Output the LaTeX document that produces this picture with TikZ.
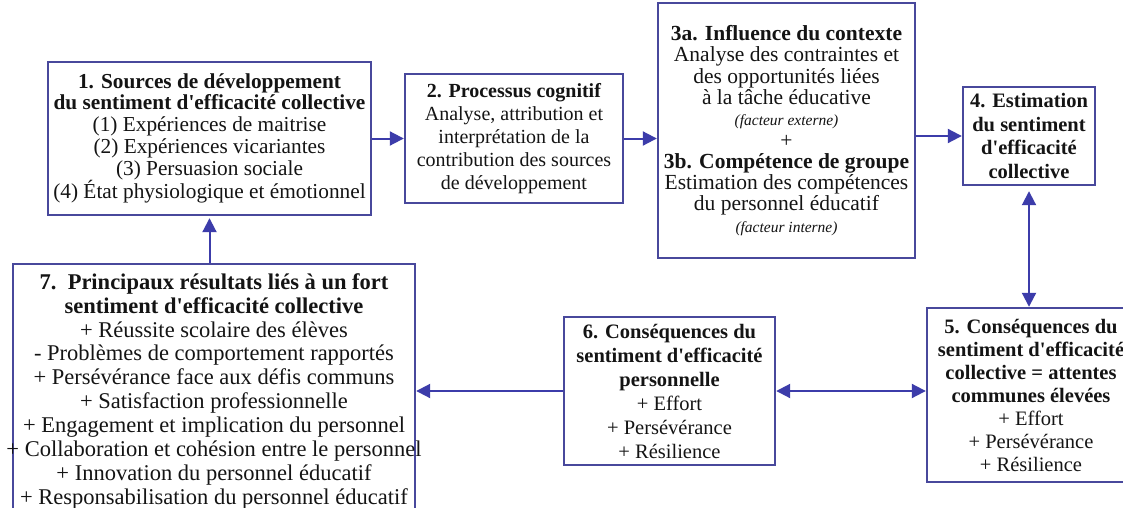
\documentclass[tikz,border=0pt]{standalone}
\usepackage{fontspec}
\setmainfont{Liberation Serif}
\usetikzlibrary{arrows.meta}
\definecolor{boxcol}{RGB}{72,72,156}
\definecolor{arrcol}{RGB}{60,60,170}
\definecolor{txtcol}{RGB}{20,20,20}
\tikzset{
  box/.style={draw=boxcol, line width=2.4pt, fill=white, inner sep=0pt, align=center, text=txtcol},
  arr/.style={draw=arrcol, line width=2pt, -{Triangle[length=14pt,width=14pt]}},
  darr/.style={draw=arrcol, line width=2pt, {Triangle[length=14pt,width=14pt]}-{Triangle[length=14pt,width=14pt]}},
}
\newcommand{\fsz}[2]{\fontsize{#1}{#2}\selectfont}
\newcommand{\ap}{\textquotesingle}
\begin{document}
\begin{tikzpicture}[x=1pt,y=-1pt]
\useasboundingbox (0,0) rectangle (1123,508);
\clip (0,0) rectangle (1123,508);
\fill[white] (0,0) rectangle (1123,508);

\node[box, minimum width=323pt, minimum height=153pt, font=\fsz{21.3}{21.7}] (b1) at (209.5,138.5)
 {\textbf{1. Sources de développement}\\ \textbf{du sentiment d\ap efficacité collective}\\ (1) Expériences de maitrise\\ (2) Expériences vicariantes\\ (3) Persuasion sociale\\ (4) État physiologique et émotionnel};

\node[box, minimum width=218pt, minimum height=129pt, font=\fsz{20}{23}] (b2) at (514,138.5)
 {\textbf{2. Processus cognitif}\\ Analyse, attribution et\\ interprétation de la\\ contribution des sources\\ de développement};

\node[box, minimum width=257pt, minimum height=255pt, font=\fsz{21.5}{21.3}] (b3) at (786.5,130.5)
 {\textbf{3a. Influence du contexte}\\ Analyse des contraintes et\\ des opportunités liées\\ à la tâche éducative\\ {\fsz{15.5}{21.3}\itshape (facteur externe)}\\ +\\ \textbf{3b. Compétence de groupe}\\ Estimation des compétences\\ du personnel éducatif\\ {\fsz{15.5}{21.3}\itshape (facteur interne)}};

\node[box, minimum width=132pt, minimum height=98pt, font=\fsz{20.5}{23.5}\bfseries] (b4) at (1029,136)
 {4. Estimation\\ du sentiment\\ d\ap efficacité\\ collective};

\node[box, minimum width=208pt, minimum height=174pt, font=\fsz{20.5}{23}] (b5) at (1031,395)
 {\textbf{5. Conséquences du}\\ \textbf{sentiment d\ap efficacité}\\ \textbf{collective = attentes}\\ \textbf{communes élevées}\\ + Effort\\ + Persévérance\\ + Résilience};

\node[box, minimum width=211pt, minimum height=148pt, font=\fsz{20.5}{24}] (b6) at (669.5,391)
 {\textbf{6. Conséquences du}\\ \textbf{sentiment d\ap efficacité}\\ \textbf{personnelle}\\ + Effort\\ + Persévérance\\ + Résilience};

\node[box, minimum width=402pt, minimum height=256pt, font=\fsz{22.5}{23.9}] (b7) at (214,392)
 {\makebox[380pt]{\begin{tabular}{@{}c@{}}\textbf{7.\ \ Principaux résultats liés à un fort}\\ \textbf{sentiment d\ap efficacité collective}\\ + Réussite scolaire des élèves\\ - Problèmes de comportement rapportés\\ + Persévérance face aux défis communs\\ + Satisfaction professionnelle\\ + Engagement et implication du personnel\\ + Collaboration et cohésion entre le personnel\\ + Innovation du personnel éducatif\\ + Responsabilisation du personnel éducatif\end{tabular}}};

\draw[arr] (b1.east) -- (b2.west);
\draw[arr] (b2.east) -- (b2.east -| b3.west);
\draw[arr] (b3.east |- b4.west) -- (b4.west);
\draw[darr, shorten <=5pt] (b4.south) -- (b4.south |- b5.north);
\draw[darr] (b6.east) -- (b6.east -| b5.west);
\draw[arr] (b6.west) -- (b6.west -| b7.east);
\draw[arr, shorten >=2pt] (b1.south |- b7.north) -- (b1.south);
\end{tikzpicture}
\end{document}
